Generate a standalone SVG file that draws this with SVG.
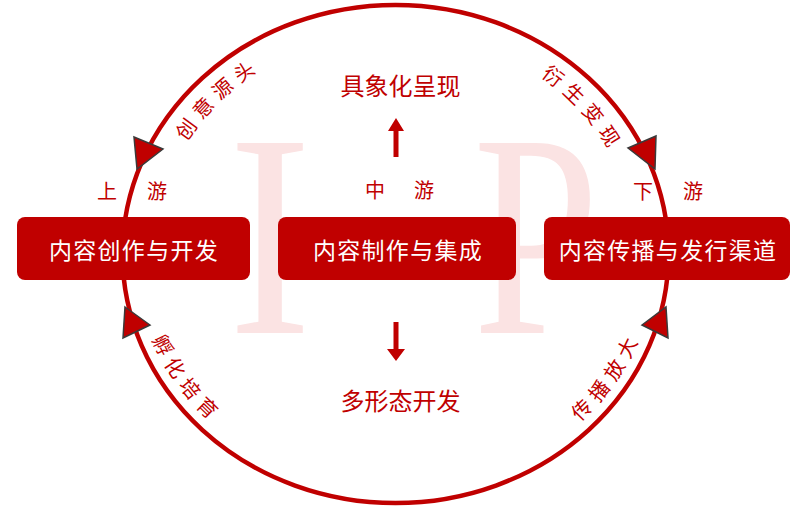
<svg xmlns="http://www.w3.org/2000/svg" width="800" height="513" viewBox="0 0 800 513">
<style>
.wm{font-family:"Liberation Serif","Times New Roman",serif;font-size:290px;fill:#FBE3E3;text-anchor:middle}
.lbl{font-family:"Noto Sans CJK SC","Noto Sans",sans-serif;fill:#C00000;font-size:20px}
.big{font-family:"Noto Sans CJK SC","Noto Sans",sans-serif;fill:#C00000;font-size:24px;text-anchor:middle}
.arc{font-family:"Noto Sans CJK SC","Noto Sans",sans-serif;fill:#C00000;font-size:20px;letter-spacing:6.5px}
.box{fill:#C00000}
.boxt{font-family:"Noto Sans CJK SC","Noto Sans",sans-serif;fill:#FFFFFF;font-size:23px;letter-spacing:1.3px;text-anchor:middle}
.ring{fill:none;stroke:#C00000;stroke-width:4.5}
.head{fill:#C00000;stroke:#3A3A3A;stroke-width:1.5;stroke-linejoin:miter}
.arr{fill:#C00000}
</style>
<defs>
<path id="topArc" d="M 153.5 254 A 242 222 0 0 1 637.5 254"/>
<path id="botArc" d="M 134.5 254 A 261 237 0 0 0 656.5 254"/>
</defs>
<g id="watermark">
<text class="wm" transform="translate(270,333) scale(0.86,1)" x="0" y="0">I</text>
<text class="wm" transform="translate(536,333) scale(0.78,1)" x="0" y="0">P</text>
</g>
<g id="connectors">
<ellipse class="ring" cx="395.5" cy="254" rx="273" ry="249"/>
<polygon class="head" points="134,137 163,149 137,169"/>
<polygon class="head" points="628,148 656,136 655,169"/>
<polygon class="head" points="125,307 150,325 123,338"/>
<polygon class="head" points="642,325 666,307 668,338"/>
<polygon class="arr" points="396,118 404,131 398.5,131 398.5,157 393.5,157 393.5,131 388,131"/>
<polygon class="arr" points="393.5,322 398.5,322 398.5,349 405,349 396,361 387,349 393.5,349"/>
<text class="arc"><textPath href="#topArc" startOffset="23.5%" text-anchor="middle">创意源头</textPath></text>
<text class="arc"><textPath href="#topArc" startOffset="78.4%" text-anchor="middle">衍生变现</textPath></text>
<text class="arc"><textPath href="#botArc" startOffset="18%" text-anchor="middle">孵化培育</textPath></text>
<text class="arc"><textPath href="#botArc" startOffset="82.5%" text-anchor="middle">传播放大</textPath></text>
</g>
<g id="labels">
<text class="big" x="400.5" y="95">具象化呈现</text>
<text class="big" x="400.5" y="410">多形态开发</text>
<text class="lbl" x="97" y="199" letter-spacing="30">上游</text>
<text class="lbl" x="365" y="198" letter-spacing="29">中游</text>
<text class="lbl" x="633" y="199" letter-spacing="30">下游</text>
</g>
<g id="node-upstream">
<rect class="box" x="17" y="217" width="233" height="63" rx="8"/>
<text class="boxt" x="134" y="259">内容创作与开发</text>
</g>
<g id="node-midstream">
<rect class="box" x="278" y="217" width="238" height="63" rx="8"/>
<text class="boxt" x="398" y="259">内容制作与集成</text>
</g>
<g id="node-downstream">
<rect class="box" x="544" y="217" width="246" height="63" rx="8"/>
<text class="boxt" x="668" y="259">内容传播与发行渠道</text>
</g>
</svg>
